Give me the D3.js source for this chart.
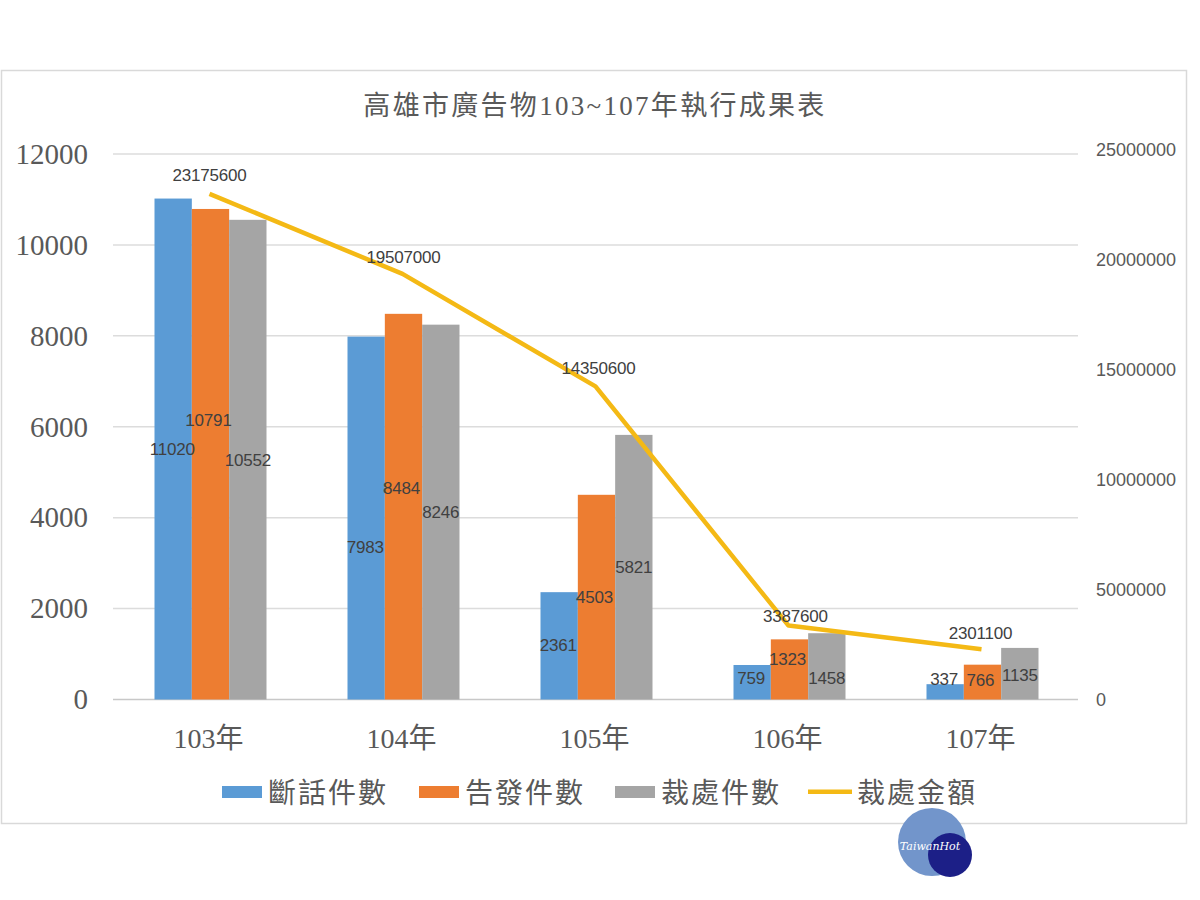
<!DOCTYPE html>
<html>
<head>
<meta charset="utf-8">
<script src="https://cdn.jsdelivr.net/npm/d3@7"></script>
<style>
  html, body { margin: 0; padding: 0; background: #fff; }
  svg { display: block; }
</style>
</head>
<body>
<div id="chart"></div>
<script>
var title = "高雄市廣告物103~107年執行成果表";
var years = ["103年", "104年", "105年", "106年", "107年"];
var cutCalls = [11020, 7983, 2361, 759, 337];
var reported = [10791, 8484, 4503, 1323, 766];
var penalized = [10552, 8246, 5821, 1458, 1135];
var fines = [23175600, 19507000, 14350600, 3387600, 2301100];
var leftTicks = [0, 2000, 4000, 6000, 8000, 10000, 12000];
var rightTicks = [0, 5000000, 10000000, 15000000, 20000000, 25000000];
var seriesNames = ["斷話件數", "告發件數", "裁處件數", "裁處金額"];

var serif = "'Liberation Serif','Noto Sans CJK TC',serif";
var sans = "'Liberation Sans','Noto Sans CJK TC',sans-serif";
var colors = ["#5b9bd5", "#ed7d31", "#a5a5a5", "#f4b915"];
var textColor = "#595959";

var svg = d3.select("#chart").append("svg")
  .attr("width", 1200)
  .attr("height", 900);

// chart frame
svg.append("rect")
  .attr("x", 1.5).attr("y", 70.5)
  .attr("width", 1185).attr("height", 753)
  .attr("fill", "#fff")
  .attr("stroke", "#d9d9d9")
  .attr("stroke-width", 1.5);

var x = d3.scaleBand().domain(years).range([113, 1078]);
var barX = d3.scaleBand().domain([0, 1, 2]).range([-55, 57]);
var y = d3.scaleLinear().domain([0, 12000]).range([699.5, 154]);
var y2 = d3.scaleLinear().domain([0, 25000000]).range([699.5, 154]);
// the right hand labels are spaced a bit wider than the gridlines
var y2Labels = d3.scaleLinear().domain([0, 25000000]).range([700, 150]);

svg.append("text")
  .attr("x", 595).attr("y", 115)
  .attr("text-anchor", "middle")
  .attr("font-family", serif)
  .attr("font-size", 27)
  .attr("letter-spacing", 2.3)
  .attr("fill", textColor)
  .text(title);

// gridlines
svg.append("g").selectAll("line")
  .data(leftTicks)
  .join("line")
  .attr("x1", 113).attr("x2", 1078)
  .attr("y1", d => y(d)).attr("y2", d => y(d))
  .attr("stroke", d => d === 0 ? "#c8c8c8" : "#dcdcdc")
  .attr("stroke-width", 1.5);

// left axis
var leftAxis = svg.append("g")
  .attr("transform", "translate(88,0)")
  .call(d3.axisLeft(y).tickValues(leftTicks).tickFormat(d3.format("d")).tickSize(0).tickPadding(0));
leftAxis.select(".domain").remove();
leftAxis.selectAll("text")
  .attr("font-family", serif)
  .attr("font-size", 29)
  .attr("fill", textColor);

// right axis
var rightAxis = svg.append("g")
  .attr("transform", "translate(1096,0)")
  .call(d3.axisRight(y2Labels).tickValues(rightTicks).tickFormat(d3.format("d")).tickSize(0).tickPadding(0));
rightAxis.select(".domain").remove();
rightAxis.selectAll("text")
  .attr("font-family", sans)
  .attr("font-size", 18)
  .attr("fill", textColor);

// category axis
var bottomAxis = svg.append("g")
  .attr("transform", "translate(-1,700)")
  .call(d3.axisBottom(x).tickSize(0).tickPadding(0));
bottomAxis.select(".domain").remove();
bottomAxis.selectAll("text")
  .attr("y", 48)
  .attr("dy", 0)
  .attr("font-family", serif)
  .attr("font-size", 28)
  .attr("fill", textColor);

var barSeries = [cutCalls, reported, penalized];

barSeries.forEach(function(values, s) {
  svg.append("g").selectAll("rect")
    .data(values)
    .join("rect")
    .attr("x", (d, i) => x(years[i]) + x.bandwidth() / 2 + barX(s))
    .attr("y", d => y(d))
    .attr("width", barX.bandwidth())
    .attr("height", d => y(0) - y(d))
    .attr("fill", colors[s]);
});

var line = d3.line()
  .x((d, i) => x(years[i]) + x.bandwidth() / 2)
  .y(d => y2(d));

svg.append("path")
  .datum(fines)
  .attr("d", line)
  .attr("fill", "none")
  .attr("stroke", colors[3])
  .attr("stroke-width", 4.5)
  .attr("stroke-linejoin", "round");

// hand moved labels in the original, pixel nudge from the bar middle
var labelNudgeY = [
  [0, 29, -1, -4, -13],
  [-34, -19, 0, -10, -2],
  [0, 0, 0, 12, 1]
];
var labelShift = [-1, -2, 0];

barSeries.forEach(function(values, s) {
  svg.append("g").selectAll("text")
    .data(values)
    .join("text")
    .attr("x", (d, i) => x(years[i]) + x.bandwidth() / 2 + barX(s) + barX.bandwidth() / 2 + labelShift[s])
    .attr("y", (d, i) => (y(d) + y(0)) / 2 + labelNudgeY[s][i])
    .attr("dy", "0.35em")
    .attr("text-anchor", "middle")
    .attr("font-family", sans)
    .attr("font-size", 17)
    .attr("letter-spacing", -0.2)
    .attr("fill", "#404040")
    .text(d => d);
});

var fineNudgeX = [0, 1, 3, 7, -1];
var fineNudgeY = [-19, -17, -18, -10, -16];

svg.append("g").selectAll("text")
  .data(fines)
  .join("text")
  .attr("x", (d, i) => x(years[i]) + x.bandwidth() / 2 + fineNudgeX[i])
  .attr("y", (d, i) => y2(d) + fineNudgeY[i])
  .attr("dy", "0.35em")
  .attr("text-anchor", "middle")
  .attr("font-family", sans)
  .attr("font-size", 17)
  .attr("letter-spacing", -0.2)
  .attr("fill", "#404040")
  .text(d => d);

// legend
var legendX = [222, 419, 615, 808];
var legend = svg.append("g").selectAll("g")
  .data(seriesNames)
  .join("g")
  .attr("transform", (d, i) => "translate(" + legendX[i] + ",792)");

legend.append("rect")
  .attr("y", (d, i) => i === 3 ? -2.5 : -6)
  .attr("width", (d, i) => i === 3 ? 44 : 40)
  .attr("height", (d, i) => i === 3 ? 4.5 : 12)
  .attr("fill", (d, i) => colors[i]);

legend.append("text")
  .attr("x", (d, i) => i === 3 ? 49 : 46)
  .attr("y", 11)
  .attr("font-family", serif)
  .attr("font-size", 28)
  .attr("letter-spacing", 2)
  .attr("fill", textColor)
  .text(d => d);

// TaiwanHot watermark
svg.append("circle").attr("cx", 932).attr("cy", 842).attr("r", 34).attr("fill", "#7295cb");
svg.append("circle").attr("cx", 950).attr("cy", 855).attr("r", 22).attr("fill", "#1c1f87");
svg.append("text")
  .attr("x", 930).attr("y", 850)
  .attr("text-anchor", "middle")
  .attr("font-family", "'DejaVu Serif',serif")
  .attr("font-style", "italic")
  .attr("font-size", 11)
  .attr("fill", "#fff")
  .text("TaiwanHot");
</script>
</body>
</html>
